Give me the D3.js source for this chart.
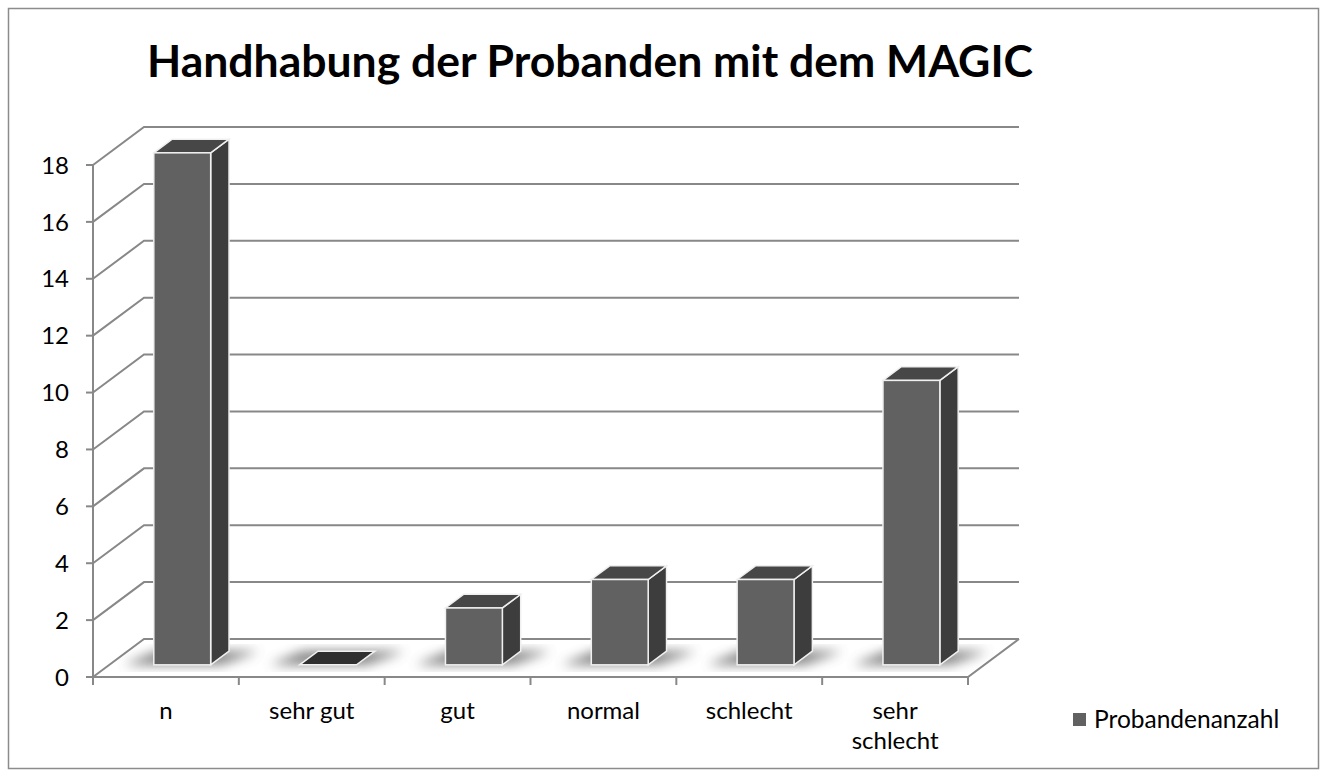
<!DOCTYPE html>
<html>
<head>
<meta charset="utf-8">
<script src="https://cdn.jsdelivr.net/npm/d3@7"></script>
<style>
  body { margin: 0; background: #fff; }
  svg text { font-family: Lato, "Open Sans", sans-serif; fill: #000; }
</style>
</head>
<body>
<div id="chart"></div>
<script>
const categories = ["n", "sehr gut", "gut", "normal", "schlecht", "sehr schlecht"];
const values = [18, 0, 2, 3, 3, 10];
const yTicks = [0, 2, 4, 6, 8, 10, 12, 14, 16, 18];
const seriesName = "Probandenanzahl";
const title = "Handhabung der Probanden mit dem MAGIC";

const W = 1325, H = 776;
const plotLeft = 93, plotRight = 968, plotBase = 677, plotTop = 165;
// depth of the 3d box (towards the back wall)
const dx = 51, dy = 38;
const f1 = 0.32, f2 = 0.68; // bar depth range
const gridColor = "#888888";

const svg = d3.select("#chart").append("svg")
  .attr("width", W).attr("height", H);

const x = d3.scaleBand().domain(categories).range([plotLeft, plotRight]).padding(0);
const y = d3.scaleLinear().domain([0, 18]).range([plotBase, plotTop]);

// frame
svg.append("rect")
  .attr("x", 8.5).attr("y", 8.5).attr("width", 1310).attr("height", 760)
  .attr("fill", "#fff").attr("stroke", "#8c8c8c").attr("stroke-width", 1.5);

// title
svg.append("text")
  .attr("x", 590).attr("y", 77)
  .attr("text-anchor", "middle")
  .style("font-size", "44.5px").style("font-weight", "bold")
  .text(title);

const defs = svg.append("defs");
defs.append("filter").attr("id", "blur")
  .attr("x", "-50%").attr("y", "-50%").attr("width", "200%").attr("height", "200%")
  .append("feGaussianBlur").attr("stdDeviation", 6);

const grid = svg.append("g")
  .attr("fill", "none").attr("stroke", gridColor).attr("stroke-width", 2);

// left wall diagonals + back wall lines
yTicks.forEach((t) => {
  grid.append("path")
    .attr("d", `M${plotLeft},${y(t)} L${plotLeft + dx},${y(t) - dy} L${plotRight + dx},${y(t) - dy}`);
});

// floor front + right edge
grid.append("path")
  .attr("d", `M${plotLeft},${plotBase} L${plotRight},${plotBase} L${plotRight + dx},${plotBase - dy}`);

// front y axis line and ticks
grid.append("line")
  .attr("x1", plotLeft).attr("x2", plotLeft).attr("y1", y(18)).attr("y2", plotBase);
yTicks.forEach((t) => {
  grid.append("line")
    .attr("x1", plotLeft - 7).attr("x2", plotLeft).attr("y1", y(t)).attr("y2", y(t));
});

// x ticks at category boundaries
const bounds = categories.map((c) => x(c)).concat([plotRight]);
bounds.forEach((b) => {
  grid.append("line")
    .attr("x1", b).attr("x2", b).attr("y1", plotBase).attr("y2", plotBase + 8);
});

// y tick labels
svg.append("g").selectAll("text")
  .data(yTicks).enter().append("text")
  .attr("x", 69).attr("y", (d) => y(d))
  .attr("dy", "0.36em")
  .attr("text-anchor", "end")
  .style("font-size", "24px")
  .text((d) => d);

// x labels
const xl = svg.append("g").selectAll("text")
  .data(categories).enter().append("text")
  .attr("x", (d) => x(d) + x.bandwidth() / 2)
  .attr("y", 719)
  .attr("text-anchor", "middle")
  .style("font-size", "24px");
xl.each(function (d) {
  const words = d === "sehr schlecht" ? ["sehr", "schlecht"] : [d];
  const t = d3.select(this);
  words.forEach((w, i) => {
    t.append("tspan")
      .attr("x", x(d) + x.bandwidth() / 2)
      .attr("dy", i === 0 ? 0 : 30)
      .text(w);
  });
});

// bars
const bw = x.bandwidth() * 0.39;
const bars = svg.append("g");

categories.forEach((c, i) => {
  const v = values[i];
  const cx = x(c) + x.bandwidth() / 2;
  const x0 = cx - bw / 2 + dx * f1;
  const x1 = cx + bw / 2 + dx * f1;
  const yb = y(0) - dy * f1;
  const yt = y(v) - dy * f1;
  const ddx = dx * (f2 - f1), ddy = dy * (f2 - f1);

  // soft shadow on the floor
  bars.append("path")
    .attr("d", `M${x0 - 30},${yb} L${x1 + 10},${yb} L${x1 + ddx + 30},${yb - ddy} L${x0 + ddx - 15},${yb - ddy} Z`)
    .attr("fill", "#555").attr("opacity", 0.75)
    .attr("filter", "url(#blur)");

  if (v === 0) {
    bars.append("path")
      .attr("d", `M${x0},${yb} L${x1},${yb} L${x1 + ddx},${yb - ddy} L${x0 + ddx},${yb - ddy} Z`)
      .attr("fill", "#2f2f2f").attr("stroke", "#f0f0f0").attr("stroke-width", 1.5);
    return;
  }

  // side face
  bars.append("path")
    .attr("d", `M${x1},${yb} L${x1 + ddx},${yb - ddy} L${x1 + ddx},${yt - ddy} L${x1},${yt} Z`)
    .attr("fill", "#3d3d3d").attr("stroke", "#f0f0f0").attr("stroke-width", 1.5);
  // top face
  bars.append("path")
    .attr("d", `M${x0},${yt} L${x1},${yt} L${x1 + ddx},${yt - ddy} L${x0 + ddx},${yt - ddy} Z`)
    .attr("fill", "#474747").attr("stroke", "#f0f0f0").attr("stroke-width", 1.5);
  // front face
  bars.append("rect")
    .attr("x", x0).attr("y", yt).attr("width", bw).attr("height", yb - yt)
    .attr("fill", "#616161").attr("stroke", "#f0f0f0").attr("stroke-width", 1.5);
});

// legend
svg.append("rect")
  .attr("x", 1073).attr("y", 713).attr("width", 13).attr("height", 13)
  .attr("fill", "#616161");
svg.append("text")
  .attr("x", 1094).attr("y", 728)
  .style("font-size", "24.5px")
  .text(seriesName);
</script>
</body>
</html>
